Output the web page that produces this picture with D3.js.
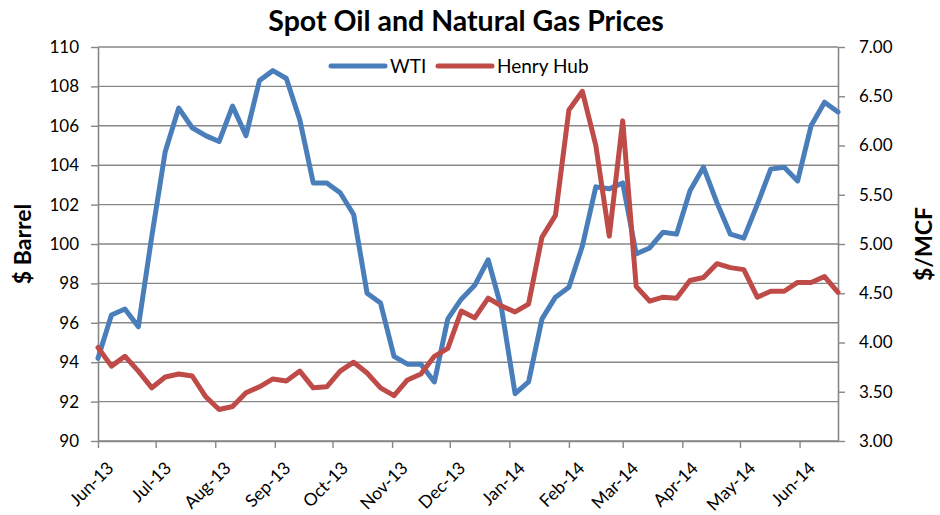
<!DOCTYPE html>
<html>
<head>
<meta charset="utf-8">
<script src="https://cdn.jsdelivr.net/npm/d3@7"></script>
<style>
  body { margin: 0; background: #fff; }
  svg text { font-family: Lato, "Open Sans", sans-serif; fill: #000; }
</style>
</head>
<body>
<div id="chart"></div>
<script>
// weekly spot prices, first week of Jun-13 to last week of Jun-14
const startDate = new Date(2013, 5, 7);
const wti = [94.2, 96.4, 96.7, 95.8, 100.4, 104.7, 106.9, 105.9, 105.5, 105.2,
  107.0, 105.5, 108.3, 108.8, 108.4, 106.3, 103.1, 103.1, 102.6, 101.5,
  97.5, 97.0, 94.3, 93.9, 93.9, 93.0, 96.2, 97.2, 97.9, 99.2,
  96.7, 92.4, 93.0, 96.2, 97.3, 97.8, 99.9, 102.9, 102.8, 103.1,
  99.5, 99.8, 100.6, 100.5, 102.7, 103.9, 102.1, 100.5, 100.3, 102.0,
  103.8, 103.9, 103.2, 106.0, 107.2, 106.7];
const henryHub = [3.95, 3.76, 3.86, 3.71, 3.54, 3.65, 3.68, 3.66, 3.45, 3.32,
  3.35, 3.49, 3.55, 3.63, 3.61, 3.71, 3.54, 3.55, 3.71, 3.80,
  3.69, 3.54, 3.46, 3.62, 3.68, 3.86, 3.94, 4.32, 4.25, 4.45,
  4.37, 4.31, 4.39, 5.07, 5.29, 6.36, 6.55, 6.00, 5.08, 6.25,
  4.57, 4.42, 4.46, 4.45, 4.63, 4.66, 4.80, 4.76, 4.74, 4.46,
  4.52, 4.52, 4.61, 4.61, 4.67, 4.51];
const monthLabels = ["Jun-13", "Jul-13", "Aug-13", "Sep-13", "Oct-13", "Nov-13", "Dec-13",
  "Jan-14", "Feb-14", "Mar-14", "Apr-14", "May-14", "Jun-14"];
const leftTicks = [90, 92, 94, 96, 98, 100, 102, 104, 106, 108, 110];
const rightTicks = [3.00, 3.50, 4.00, 4.50, 5.00, 5.50, 6.00, 6.50, 7.00];

const dates = wti.map((d, i) => d3.timeWeek.offset(startDate, i));
const tickDates = monthLabels.map((d, i) => d3.timeMonth.offset(startDate, i));

const W = 940, H = 515;
const margin = { top: 47, right: 102, bottom: 74, left: 98 };
const width = W - margin.left - margin.right;
const height = H - margin.top - margin.bottom;

const svg = d3.select("#chart").append("svg")
  .attr("width", W).attr("height", H);
const g = svg.append("g")
  .attr("transform", `translate(${margin.left},${margin.top})`);

const x = d3.scaleTime().domain([dates[0], dates[dates.length - 1]]).range([0, width]);
const yL = d3.scaleLinear().domain([90, 110]).range([height, 0]);
const yR = d3.scaleLinear().domain([3, 7]).range([height, 0]);

const gridColor = "#878787";

// gridlines
g.append("g").selectAll("line")
  .data(leftTicks)
  .join("line")
  .attr("x1", 0).attr("x2", width)
  .attr("y1", d => yL(d)).attr("y2", d => yL(d))
  .attr("stroke", gridColor).attr("stroke-width", 1.4);

// axes
function styleAxis(sel) {
  sel.select(".domain").attr("stroke", gridColor).attr("stroke-width", 1.6);
  sel.selectAll(".tick line").attr("stroke", gridColor).attr("stroke-width", 1.4);
  sel.selectAll("text").style("font-size", "17px").attr("fill", "#000");
}

g.append("g")
  .call(d3.axisLeft(yL).tickValues(leftTicks).tickSize(7).tickSizeOuter(0).tickPadding(12))
  .call(styleAxis);

g.append("g")
  .attr("transform", `translate(${width},0)`)
  .call(d3.axisRight(yR).tickValues(rightTicks).tickSize(7).tickSizeOuter(0).tickPadding(14)
    .tickFormat(d3.format(".2f")))
  .call(styleAxis);

const xAxis = g.append("g")
  .attr("transform", `translate(0,${height})`)
  .call(d3.axisBottom(x).tickValues(tickDates).tickSize(7).tickSizeOuter(0)
    .tickFormat((d, i) => monthLabels[i]))
  .call(styleAxis);
xAxis.selectAll("text")
  .style("font-size", "17.5px")
  .attr("text-anchor", "end")
  .attr("transform", "translate(3,15) rotate(-45)")
  .attr("dy", "0.5em");

// series lines
const lineL = d3.line().x((d, i) => x(dates[i])).y(d => yL(d));
const lineR = d3.line().x((d, i) => x(dates[i])).y(d => yR(d));

g.append("path").datum(wti)
  .attr("d", lineL)
  .attr("fill", "none").attr("stroke", "#4a7ebb").attr("stroke-width", 5)
  .attr("stroke-linejoin", "round").attr("stroke-linecap", "round");

g.append("path").datum(henryHub)
  .attr("d", lineR)
  .attr("fill", "none").attr("stroke", "#be4b48").attr("stroke-width", 5)
  .attr("stroke-linejoin", "round").attr("stroke-linecap", "round");

// title
svg.append("text")
  .attr("x", 466).attr("y", 31)
  .attr("text-anchor", "middle")
  .style("font-size", "28.5px").style("font-weight", "bold")
  .text("Spot Oil and Natural Gas Prices");

// axis titles
svg.append("text")
  .attr("transform", "translate(31,244) rotate(-90)")
  .attr("text-anchor", "middle")
  .style("font-size", "23px").style("font-weight", "bold")
  .text("$ Barrel");

svg.append("text")
  .attr("transform", "translate(932,244) rotate(-90)")
  .attr("text-anchor", "middle")
  .style("font-size", "23px").style("font-weight", "bold")
  .text("$/MCF");

// legend
const legendItems = [
  { name: "WTI", color: "#4a7ebb", x: 331 },
  { name: "Henry Hub", color: "#be4b48", x: 438 }
];
const legend = svg.append("g");
legendItems.forEach(d => {
  legend.append("line")
    .attr("x1", d.x).attr("x2", d.x + 54)
    .attr("y1", 66).attr("y2", 66)
    .attr("stroke", d.color).attr("stroke-width", 5).attr("stroke-linecap", "round");
  legend.append("text")
    .attr("x", d.x + 59).attr("y", 72.5)
    .style("font-size", "19px")
    .text(d.name);
});
</script>
</body>
</html>
